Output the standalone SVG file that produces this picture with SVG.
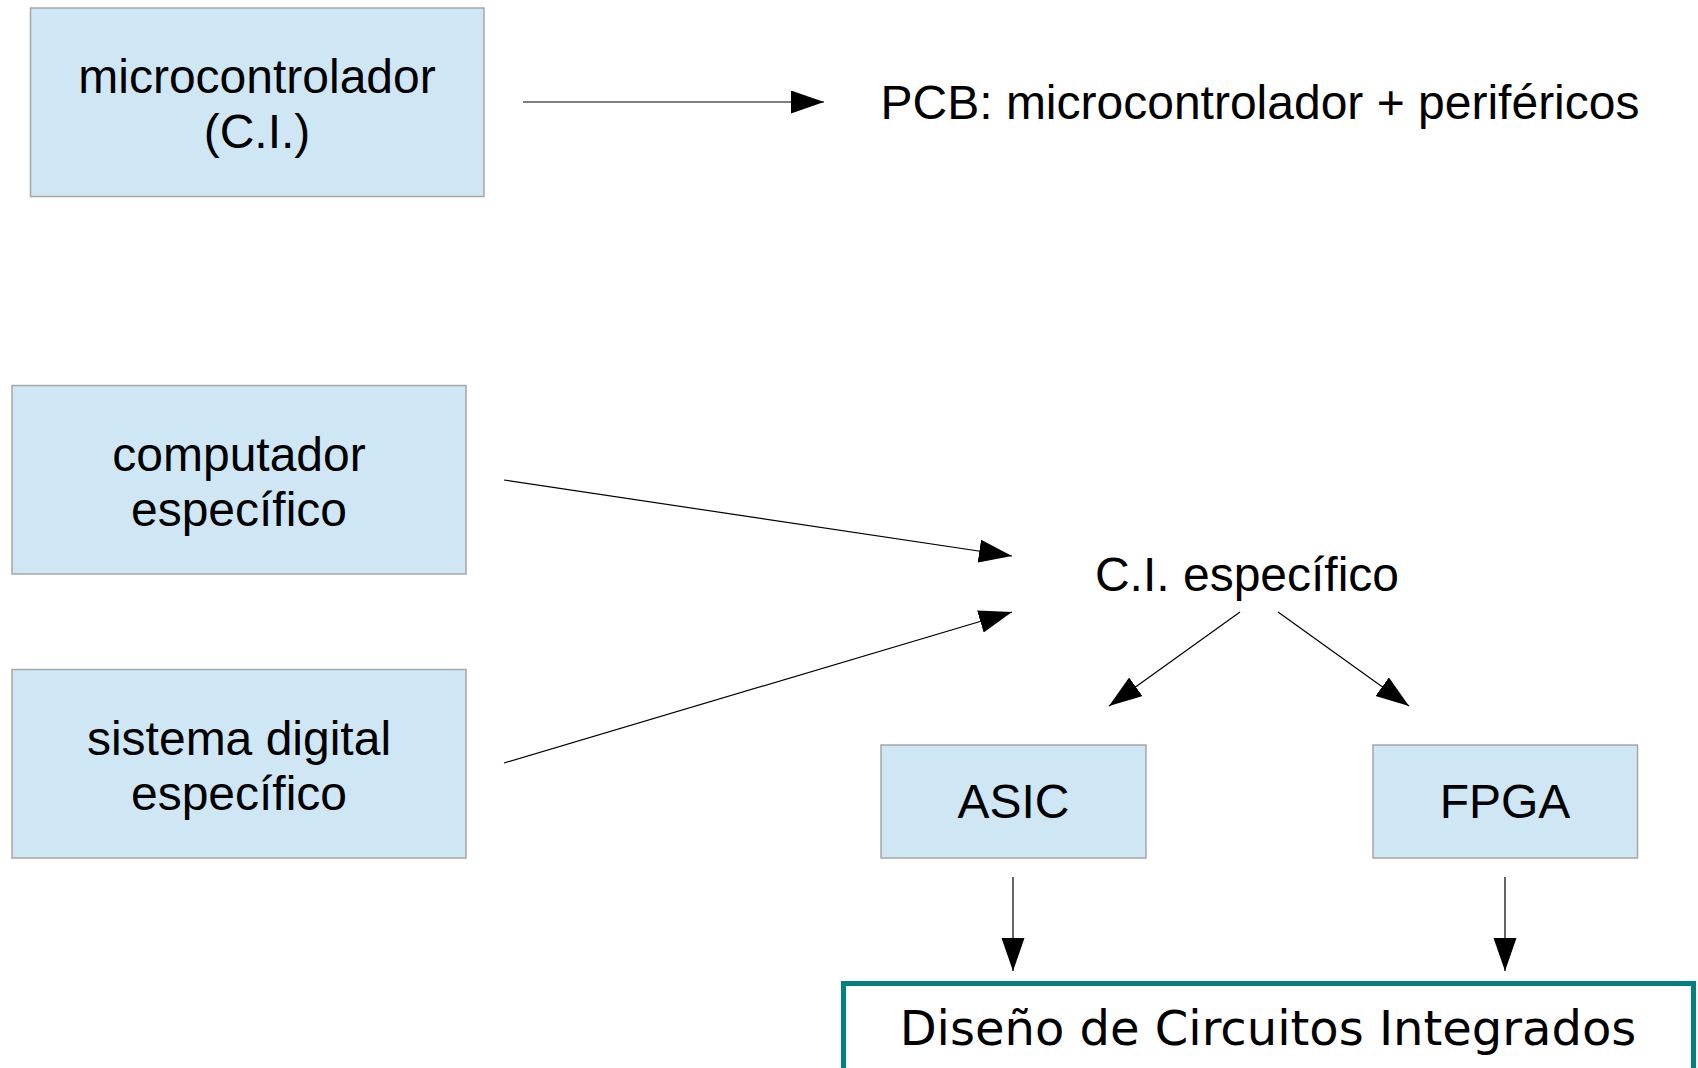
<svg xmlns="http://www.w3.org/2000/svg" width="1698" height="1068" viewBox="0 0 1698 1068">
<style>
.box{fill:#cfe7f5;stroke:#a6a6a6;stroke-width:1.5}
.t{font-family:"Liberation Sans",Arial,sans-serif;font-size:48px;fill:#000;text-anchor:middle}
.d{font-family:"DejaVu Sans",Verdana,sans-serif;font-size:48px;fill:#000;text-anchor:middle}
.c{stroke:#000;stroke-width:1.2;fill:none;marker-end:url(#ah)}
</style>
<defs>
<marker id="ah" markerUnits="userSpaceOnUse" markerWidth="34" markerHeight="24" refX="33" refY="11.5" orient="auto" viewBox="0 0 34 24">
<path d="M0,0 L33,11.5 L0,23 Z" fill="#000"/>
</marker>
</defs>
<rect width="1698" height="1068" fill="#fff"/>
<g id="microcontrolador">
<rect class="box" x="30.5" y="8" width="453.5" height="188.5"/>
<text class="t" x="257" y="93">microcontrolador</text>
<text class="t" x="257" y="148">(C.I.)</text>
</g>
<g id="pcb">
<text class="t" x="1260" y="119">PCB: microcontrolador + periféricos</text>
</g>
<g id="computador">
<rect class="box" x="12" y="385.5" width="454" height="188.5"/>
<text class="t" x="239" y="471">computador</text>
<text class="t" x="239" y="526">específico</text>
</g>
<g id="sistema">
<rect class="box" x="12" y="669.5" width="454" height="188.5"/>
<text class="t" x="239" y="755">sistema digital</text>
<text class="t" x="239" y="810">específico</text>
</g>
<g id="ci">
<text class="t" x="1247" y="591">C.I. específico</text>
</g>
<g id="asic">
<rect class="box" x="881" y="745" width="265" height="113"/>
<text class="t" x="1013.5" y="818">ASIC</text>
</g>
<g id="fpga">
<rect class="box" x="1373" y="745" width="264.5" height="113"/>
<text class="t" x="1505" y="818">FPGA</text>
</g>
<g id="diseno">
<rect x="843.5" y="983.5" width="850" height="120" fill="#fff" stroke="#008080" stroke-width="5"/>
<text class="d" x="1268" y="1045">Diseño de Circuitos Integrados</text>
</g>
<g id="connectors">
<line class="c" x1="523" y1="102" x2="824" y2="102"/>
<line class="c" x1="504" y1="480" x2="1012" y2="556"/>
<line class="c" x1="504" y1="763" x2="1012" y2="612"/>
<line class="c" x1="1240" y1="612" x2="1109" y2="706"/>
<line class="c" x1="1278" y1="612" x2="1409" y2="706"/>
<line class="c" x1="1013" y1="877" x2="1013" y2="971"/>
<line class="c" x1="1505" y1="877" x2="1505" y2="971"/>
</g>
</svg>
